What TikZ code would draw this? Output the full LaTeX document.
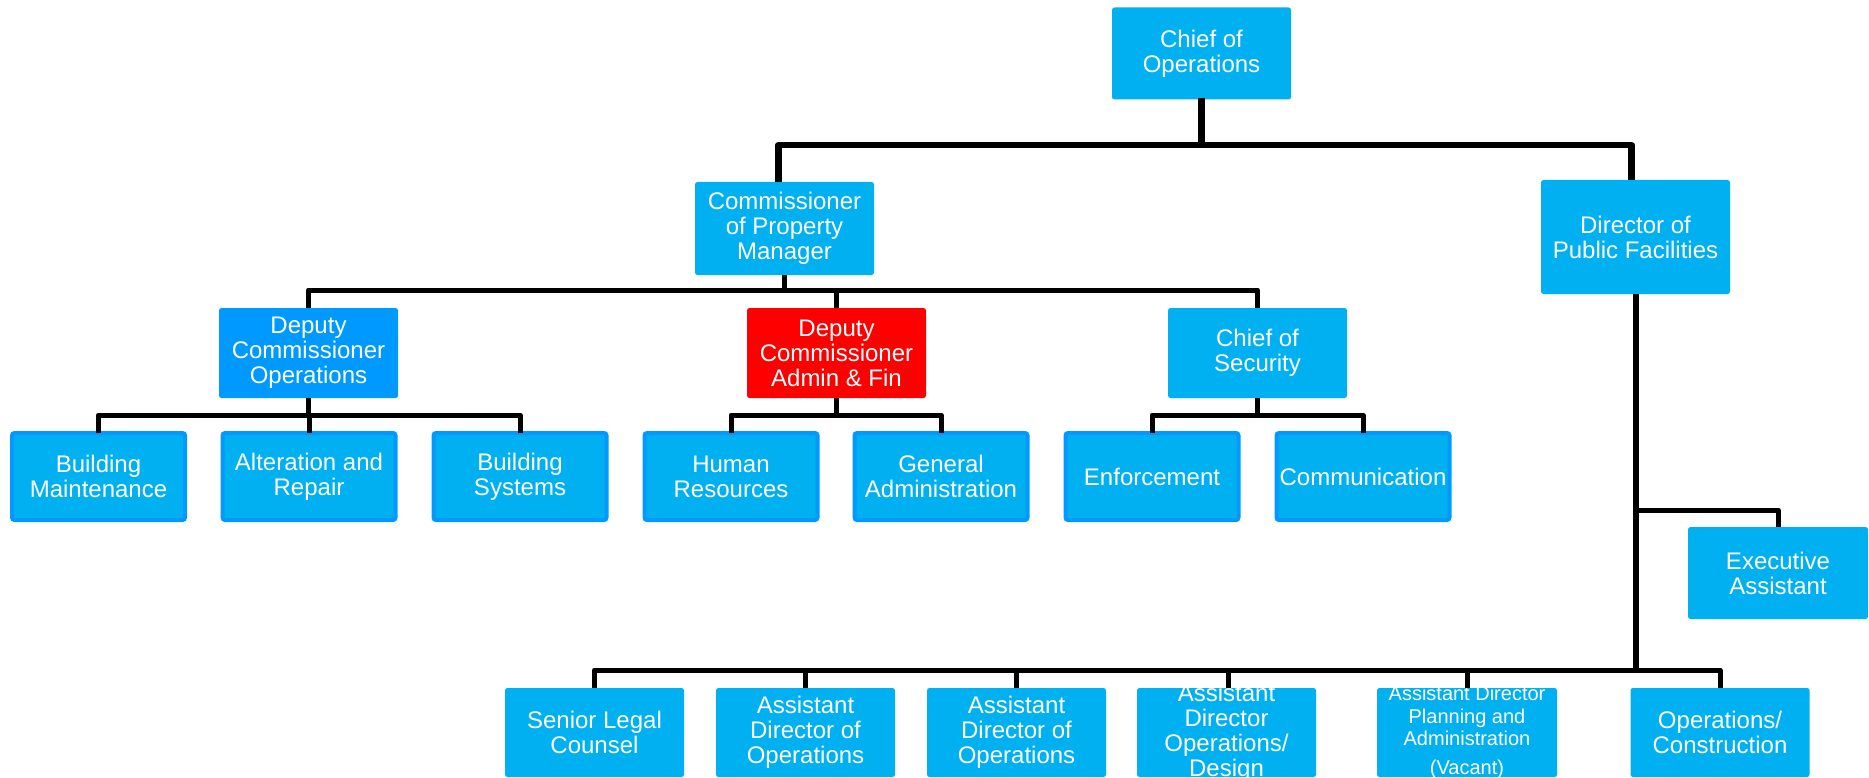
\documentclass[tikz,border=0pt]{standalone}
\usepackage{fontspec}
\setmainfont{Liberation Sans}
\definecolor{unitcyan}{HTML}{00B0F0}
\definecolor{unitblue}{HTML}{0099FF}
\definecolor{unitred}{HTML}{FF0000}
\tikzset{
  unit/.style={rectangle, rounded corners=2.5pt, fill=unitcyan, text=white,
    align=center, inner sep=0pt, minimum width=179pt, minimum height=90pt,
    font=\fontsize{24}{25}\selectfont},
  deputyops/.style={unit, fill=unitblue},
  deputyfin/.style={unit, fill=unitred},
  leaf/.style={unit, draw=unitblue, line width=4pt, minimum width=173pt, minimum height=87pt},
  lower/.style={unit, minimum height=89pt},
  overfull/.style={inner ysep=-10pt},
  small/.style={font=\fontsize{20}{22.6}\selectfont},
  wire/.style={line width=5pt, line join=round, draw=black},
  mainwire/.style={wire, line width=6.5pt},
}
\begin{document}
\begin{tikzpicture}[x=1pt, y=-1pt]
  \useasboundingbox (0,0) rectangle (1869,778);
  \clip (0,0) rectangle (1869,778);

  % top of the chart
  \node[unit, minimum height=92pt] (chief) at (1201.5,53.5) {Chief of\\Operations};
  \node[unit, minimum height=93pt] (comm) at (784.5,228.5) {Commissioner\\of Property\\Manager};
  \node[unit, minimum width=189pt, minimum height=114pt] (dir) at (1635.5,237) {Director of\\Public Facilities};

  % deputies
  \node[deputyops] (dops) at (308.5,353) {Deputy\\Commissioner\\Operations};
  \node[deputyfin] (dfin) at (836.5,353) {Deputy\\Commissioner\\Admin \& Fin};
  \node[unit] (sec) at (1257.5,353) {Chief of\\Security};

  % sections
  \node[leaf] (bm) at (98.5,476.5) {Building\\Maintenance};
  \node[leaf] (ar) at (309,476.5) {Alteration and\\Repair};
  \node[leaf] (bs) at (520,476.5) {Building\\Systems};
  \node[leaf] (hr) at (731,476.5) {Human\\Resources};
  \node[leaf] (ga) at (941,476.5) {General\\Administration};
  \node[leaf] (enf) at (1152,476.5) {Enforcement};
  \node[leaf] (com) at (1363,476.5) {Communication};

  % public facilities staff
  \node[unit, minimum width=180pt, minimum height=92pt] (exec) at (1778,573) {Executive\\Assistant};
  \node[lower] (legal) at (594.5,732.5) {Senior Legal\\Counsel};
  \node[lower] (ado1) at (805.5,732.5) {Assistant\\Director of\\Operations};
  \node[lower] (ado2) at (1016.5,732.5) {Assistant\\Director of\\Operations};
  \node[lower, overfull] (add) at (1226.5,732.5) {Assistant\\Director\\Operations/\\Design};
  \node[lower, small, overfull, minimum width=180pt] (adp) at (1467,732.5) {Assistant Director\\Planning and\\Administration\\[6pt](Vacant)};
  \node[lower] (opc) at (1720,732.5) {Operations/\\Construction};

  % bus levels
  \coordinate (bus0) at (0,145);
  \coordinate (bus1) at (0,290);
  \coordinate (bus2) at (0,415);
  \coordinate (busE) at (0,510);
  \coordinate (bus3) at (0,670);

  % chief of operations
  \draw[mainwire] ([yshift=2pt]chief.south) -- (chief.south |- bus0);
  \draw[mainwire] ([xshift=-6pt]comm.north) -- ([xshift=-6pt]comm.north |- bus0)
    -- ([xshift=-4pt]dir.north |- bus0) -- ([xshift=-4pt]dir.north);

  % commissioner
  \draw[wire] (comm.south) -- (comm.south |- bus1);
  \draw[wire] (dops.north) -- (dops.north |- bus1) -- (sec.north |- bus1) -- (sec.north);
  \draw[wire] (dfin.north) -- (dfin.north |- bus1);

  % deputy operations
  \draw[wire] (dops.south) -- (dops.south |- bus2);
  \draw[wire] ([yshift=-2pt]bm.north) -- (bm.north |- bus2) -- (bs.north |- bus2) -- ([yshift=-2pt]bs.north);
  \draw[wire] ([yshift=-2pt]ar.north) -- (ar.north |- bus2);

  % deputy admin and finance
  \draw[wire] (dfin.south) -- (dfin.south |- bus2);
  \draw[wire] ([yshift=-2pt]hr.north) -- (hr.north |- bus2) -- (ga.north |- bus2) -- ([yshift=-2pt]ga.north);

  % chief of security
  \draw[wire] (sec.south) -- (sec.south |- bus2);
  \draw[wire] ([yshift=-2pt]enf.north) -- (enf.north |- bus2) -- (com.north |- bus2) -- ([yshift=-2pt]com.north);

  % director of public facilities
  \draw[wire, line width=6pt] (dir.south) -- (dir.south |- bus3);
  \draw[wire] (dir.south |- busE) -- (exec.north |- busE) -- (exec.north);
  \draw[wire] (legal.north) -- (legal.north |- bus3) -- (opc.north |- bus3) -- (opc.north);
  \draw[wire] (ado1.north) -- (ado1.north |- bus3);
  \draw[wire] (ado2.north) -- (ado2.north |- bus3);
  \draw[wire] ([xshift=1.5pt]add.north) -- ([xshift=1.5pt]add.north |- bus3);
  \draw[wire] (adp.north) -- (adp.north |- bus3);
\end{tikzpicture}
\end{document}
